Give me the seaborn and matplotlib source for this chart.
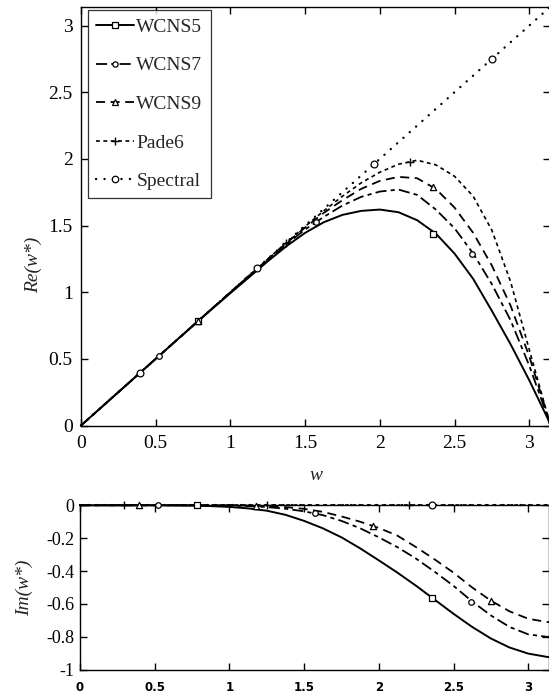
import numpy as np
import pandas as pd
import matplotlib
matplotlib.use("Agg")
import matplotlib.pyplot as plt
import seaborn as sns
from matplotlib.lines import Line2D

# ==========================================
# DATA
# ==========================================

w = [0, 0.125, 0.25, 0.375, 0.5, 0.625, 0.75, 0.875, 1.0, 1.125, 1.25, 1.375,
     1.5, 1.625, 1.75, 1.875, 2.0, 2.125, 2.25, 2.375, 2.5, 2.625, 2.75,
     2.875, 3.0, 3.125, 3.1416]

# real part of modified wavenumber
re_wcns5 = [0, 0.125, 0.25, 0.375, 0.5, 0.625, 0.749, 0.872, 0.993, 1.112,
            1.232, 1.345, 1.445, 1.525, 1.58, 1.61, 1.62, 1.60, 1.54, 1.44,
            1.29, 1.10, 0.86, 0.61, 0.34, 0.05, 0.0]
re_wcns7 = [0, 0.125, 0.25, 0.375, 0.5, 0.625, 0.75, 0.875, 0.999, 1.122,
            1.243, 1.36, 1.47, 1.565, 1.65, 1.715, 1.755, 1.77, 1.73, 1.62,
            1.48, 1.29, 1.06, 0.79, 0.45, 0.06, 0.0]
re_wcns9 = [0, 0.125, 0.25, 0.375, 0.5, 0.625, 0.75, 0.875, 1.0, 1.124,
            1.247, 1.368, 1.485, 1.595, 1.69, 1.775, 1.835, 1.865, 1.855,
            1.775, 1.635, 1.445, 1.20, 0.90, 0.52, 0.07, 0.0]
re_pade6 = [0, 0.125, 0.25, 0.375, 0.5, 0.625, 0.75, 0.875, 1.0, 1.125,
            1.249, 1.372, 1.493, 1.61, 1.72, 1.82, 1.90, 1.96, 1.99, 1.955,
            1.87, 1.72, 1.465, 1.08, 0.57, 0.07, 0.0]
re_spectral = [0, 0.125, 0.25, 0.375, 0.5, 0.625, 0.75, 0.875, 1.0, 1.125,
               1.25, 1.375, 1.5, 1.625, 1.75, 1.875, 2.0, 2.125, 2.25, 2.375,
               2.5, 2.625, 2.75, 2.875, 3.0, 3.125, 3.1416]

# imaginary part
im_wcns5 = [0, 0, 0, 0, 0, -0.001, -0.002, -0.005, -0.01, -0.019, -0.033,
            -0.058, -0.095, -0.14, -0.195, -0.262, -0.335, -0.41, -0.49,
            -0.575, -0.66, -0.74, -0.81, -0.865, -0.902, -0.922, -0.923]
im_wcns7 = [0, 0, 0, 0, 0, 0, 0, 0, -0.002, -0.005, -0.011, -0.021, -0.037,
            -0.06, -0.095, -0.14, -0.195, -0.255, -0.325, -0.405, -0.49,
            -0.585, -0.67, -0.74, -0.785, -0.80, -0.80]
im_wcns9 = [0, 0, 0, 0, 0, 0, 0, 0, 0, -0.002, -0.005, -0.011, -0.022,
            -0.04, -0.068, -0.10, -0.138, -0.185, -0.255, -0.33, -0.41,
            -0.50, -0.58, -0.645, -0.69, -0.71, -0.71]
im_pade6 = [0] * 27
im_spectral = [0] * 27

# marker positions (sparse symbols on the curves)
re_mk_w5, re_mk_v5 = [0.785, 2.356], [0.785, 1.44]
re_mk_w7, re_mk_v7 = [0.524, 1.571, 2.618], [0.524, 1.53, 1.29]
re_mk_w9, re_mk_v9 = [0.785, 2.356], [0.785, 1.787]
re_mk_wp, re_mk_vp = [1.37, 2.2], [1.367, 1.975]
re_mk_ws, re_mk_vs = [0.393, 1.178, 1.963, 2.749], [0.393, 1.178, 1.963, 2.749]

im_mk_w5, im_mk_v5 = [0.785, 2.356], [0.0, -0.562]
im_mk_w7, im_mk_v7 = [0.524, 1.571, 2.618], [0.0, -0.05, -0.59]
im_mk_w9, im_mk_v9 = [0.393, 1.178, 1.963, 2.749], [0.0, -0.004, -0.124, -0.58]
im_mk_wp, im_mk_vp = [0.295, 1.25, 2.2], [0.0, 0.0, 0.0]
im_mk_ws, im_mk_vs = [2.356], [0.0]

labels = ['WCNS5', 'WCNS7', 'WCNS9', 'Pade6', 'Spectral']

x_ticks = [0, 0.5, 1, 1.5, 2, 2.5, 3]
x_ticklabels = ['0', '0.5', '1', '1.5', '2', '2.5', '3']
re_ticks = [0, 0.5, 1, 1.5, 2, 2.5, 3]
re_ticklabels = ['0', '0.5', '1', '1.5', '2', '2.5', '3']
im_ticks = [0, -0.2, -0.4, -0.6, -0.8, -1]
im_ticklabels = ['0', '-0.2', '-0.4', '-0.6', '-0.8', '-1']

# ==========================================
# STYLE
# ==========================================

sns.set_style("ticks")
plt.rcParams['font.family'] = ['Liberation Serif', 'DejaVu Serif']
plt.rcParams['lines.scale_dashes'] = False
plt.rcParams['axes.unicode_minus'] = False

styles = {
    'WCNS5': dict(ls='-', lw=1.4, marker='s', ms=24),
    'WCNS7': dict(ls=(0, (8, 3, 3, 3)), lw=1.3, marker='o', ms=16),
    'WCNS9': dict(ls=(0, (6.5, 4)), lw=1.3, marker='^', ms=20),
    'Pade6': dict(ls=(0, (2.8, 2.5)), lw=1.2, marker='+', ms=30),
    'Spectral': dict(ls=(0, (0.1, 6)), lw=1.7, marker='o', ms=24),
}

re_data = {'WCNS5': re_wcns5, 'WCNS7': re_wcns7, 'WCNS9': re_wcns9,
           'Pade6': re_pade6, 'Spectral': re_spectral}
im_data = {'WCNS5': im_wcns5, 'WCNS7': im_wcns7, 'WCNS9': im_wcns9,
           'Pade6': im_pade6, 'Spectral': im_spectral}
re_marks = {'WCNS5': (re_mk_w5, re_mk_v5), 'WCNS7': (re_mk_w7, re_mk_v7),
            'WCNS9': (re_mk_w9, re_mk_v9), 'Pade6': (re_mk_wp, re_mk_vp),
            'Spectral': (re_mk_ws, re_mk_vs)}
im_marks = {'WCNS5': (im_mk_w5, im_mk_v5), 'WCNS7': (im_mk_w7, im_mk_v7),
            'WCNS9': (im_mk_w9, im_mk_v9), 'Pade6': (im_mk_wp, im_mk_vp),
            'Spectral': (im_mk_ws, im_mk_vs)}


def draw(ax, data, marks):
    for name in labels:
        st = styles[name]
        df = pd.DataFrame({'w': w, 'v': data[name]})
        sns.lineplot(data=df, x='w', y='v', ax=ax, color='black',
                     linewidth=st['lw'], linestyle=st['ls'],
                     dash_capstyle='round' if name == 'Spectral' else 'butt',
                     clip_on=False, zorder=2)
        mw, mv = marks[name]
        if st['marker'] == '+':
            sns.scatterplot(x=mw, y=mv, ax=ax, marker='+', s=st['ms'],
                            color='black', linewidth=1.0, zorder=4,
                            clip_on=False)
        else:
            sns.scatterplot(x=mw, y=mv, ax=ax, marker=st['marker'],
                            s=st['ms'], color='white', edgecolor='black',
                            linewidth=0.9, zorder=4, clip_on=False)


def frame(ax):
    for sp in ax.spines.values():
        sp.set_visible(True)
        sp.set_linewidth(1.0)
        sp.set_color('black')
    ax.tick_params(direction='in', length=5, width=1.0, top=True,
                   right=True, colors='black')


fig = plt.figure(figsize=(5.49, 6.93), dpi=100)

# ------------------------------------------
# TOP: Re(w*)
# ------------------------------------------
ax1 = fig.add_axes([0.1475, 0.386, 0.855, 0.6043])
draw(ax1, re_data, re_marks)
frame(ax1)
ax1.set_xlim(0, np.pi)
ax1.set_ylim(0, np.pi)
ax1.set_xticks(x_ticks)
ax1.set_xticklabels(x_ticklabels, fontsize=14)
ax1.set_yticks(re_ticks)
ax1.set_yticklabels(re_ticklabels, fontsize=14)
ax1.tick_params(axis='x', pad=7)
ax1.tick_params(axis='y', pad=6)
ax1.set_xlabel('w', fontsize=14, style='italic')
ax1.set_ylabel('Re(w*)', fontsize=14, style='italic')
ax1.xaxis.set_label_coords(0.5, -0.098)
ax1.yaxis.set_label_coords(-0.082, 0.383)

handles = []
for name in labels:
    st = styles[name]
    if st['marker'] == '+':
        h = Line2D([], [], color='black', lw=st['lw'], ls=st['ls'],
                   marker='+', ms=6, mew=1.0)
    else:
        h = Line2D([], [], color='black', lw=st['lw'], ls=st['ls'],
                   marker=st['marker'], ms=np.sqrt(st['ms']) * 0.95,
                   mfc='white', mec='black', mew=0.9,
                   dash_capstyle='round' if name == 'Spectral' else 'butt')
    handles.append(h)

leg = ax1.legend(handles, labels, loc='upper left',
                 bbox_to_anchor=(0.015, 0.992), borderaxespad=0,
                 fontsize=14, frameon=True, fancybox=False, numpoints=1,
                 handlelength=1.95, handletextpad=0.12, labelspacing=1.08,
                 borderpad=0.42)
leg.get_frame().set_edgecolor('black')
leg.get_frame().set_linewidth(0.9)

# ------------------------------------------
# BOTTOM: Im(w*)
# ------------------------------------------
ax2 = fig.add_axes([0.1457, 0.0336, 0.855, 0.2373])
draw(ax2, im_data, im_marks)
frame(ax2)
ax2.set_xlim(0, np.pi)
ax2.set_ylim(-1, 0)
ax2.set_xticks(x_ticks)
ax2.set_xticklabels(x_ticklabels, fontsize=8.5, family='DejaVu Sans',
                    weight='bold')
ax2.set_yticks(im_ticks)
ax2.set_yticklabels(im_ticklabels, fontsize=13)
ax2.tick_params(axis='x', pad=8)
ax2.tick_params(axis='y', pad=4)
ax2.set_xlabel('')
ax2.set_ylabel('Im(w*)', fontsize=14, style='italic')
ax2.yaxis.set_label_coords(-0.1, 0.5)

fig.savefig('out.png', dpi=100)
